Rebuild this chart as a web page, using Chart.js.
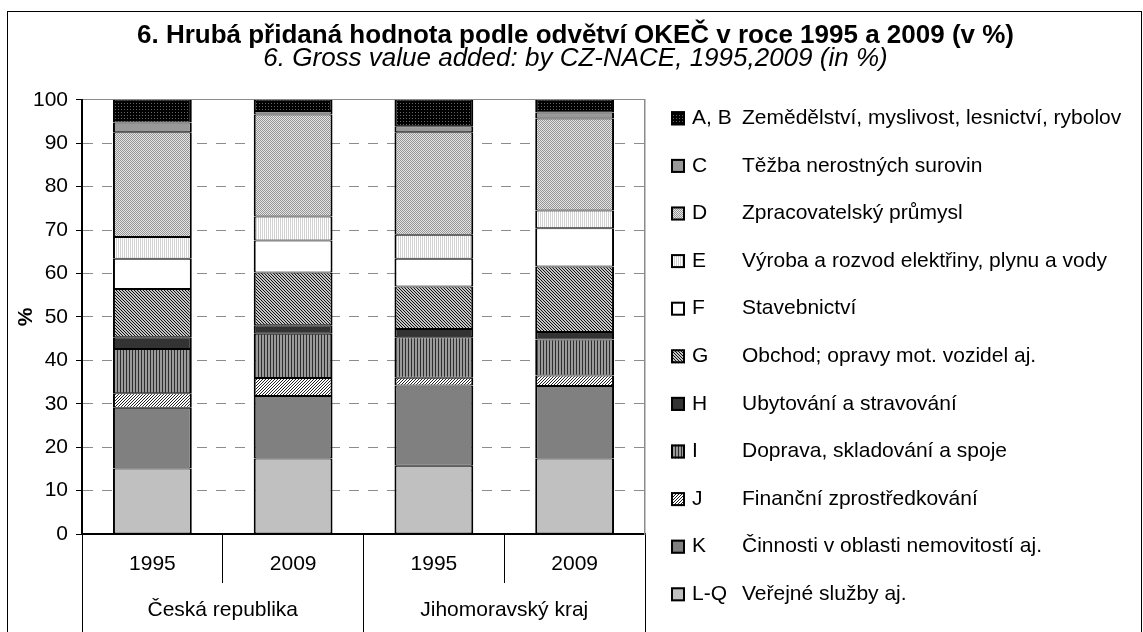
<!DOCTYPE html>
<html lang="cs">
<head>
<meta charset="utf-8">
<title>Hrubá přidaná hodnota podle odvětví OKEČ</title>
<script src="https://cdn.jsdelivr.net/npm/chart.js@4/dist/chart.umd.min.js"></script>
<style>
  html, body { margin: 0; padding: 0; background: #fff; }
  #wrap { width: 1143px; height: 632px; position: relative; }
</style>
</head>
<body>
<div id="wrap"><canvas id="chart"></canvas></div>
<script>
// --- data (legend order, top of the stack first) ---
const yearLabels = ['1995', '2009', '1995', '2009'];
const regionLabels = ['Česká republika', 'Jihomoravský kraj'];
const sectorCodes = ['A, B', 'C', 'D', 'E', 'F', 'G', 'H', 'I', 'J', 'K', 'L-Q'];
const sectorNames = [
  'Zemědělství, myslivost, lesnictví, rybolov',
  'Těžba nerostných surovin',
  'Zpracovatelský průmysl',
  'Výroba a rozvod elektřiny, plynu a vody',
  'Stavebnictví',
  'Obchod; opravy mot. vozidel aj.',
  'Ubytování a stravování',
  'Doprava, skladování a spoje',
  'Finanční zprostředkování',
  'Činnosti v oblasti nemovitostí aj.',
  'Veřejné služby aj.'
];
// shares in %, columns: ČR 1995, ČR 2009, JMK 1995, JMK 2009
const valuesAB = [5.2, 2.6, 6.1, 2.9];
const valuesC  = [2.3, 0.8, 1.4, 1.4];
const valuesD  = [24.1, 23.5, 23.6, 21.2];
const valuesE  = [5.0, 5.5, 5.5, 4.1];
const valuesF  = [7.0, 7.4, 6.4, 8.8];
const valuesG  = [11.1, 12.1, 9.8, 15.1];
const valuesH  = [2.7, 2.0, 1.9, 1.7];
const valuesI  = [10.2, 10.2, 9.3, 8.3];
const valuesJ  = [3.3, 4.1, 1.8, 2.4];
const valuesK  = [14.0, 14.4, 18.5, 16.7];
const valuesLQ = [15.1, 17.4, 15.7, 17.4];
const sectorValues = [valuesAB, valuesC, valuesD, valuesE, valuesF, valuesG, valuesH, valuesI, valuesJ, valuesK, valuesLQ];

const titleText = '6. Hrubá přidaná hodnota podle odvětví OKEČ v roce 1995 a 2009 (v %)';
const subtitleText = '6. Gross value added: by CZ-NACE, 1995,2009 (in %)';

const FONT = "'Liberation Sans', Arial, sans-serif";

// small tile patterns (grey-scale fills like the printed original)
function makePattern(size, paint) {
  const c = document.createElement('canvas');
  c.width = c.height = size;
  const g = c.getContext('2d');
  paint(g);
  return g.createPattern(c, 'repeat');
}
const fills = [
  makePattern(3, g => { g.fillStyle = '#000'; g.fillRect(0, 0, 3, 3); g.fillStyle = '#666'; g.fillRect(1, 1, 1, 1); }),
  '#999999',
  makePattern(2, g => { g.fillStyle = '#e4e4e4'; g.fillRect(0, 0, 2, 2); g.fillStyle = '#959595'; g.fillRect(0, 0, 1, 1); g.fillRect(1, 1, 1, 1); }),
  makePattern(2, g => { g.fillStyle = '#fff'; g.fillRect(0, 0, 2, 2); g.fillStyle = '#d2d2d2'; g.fillRect(0, 0, 1, 2); }),
  '#ffffff',
  makePattern(3, g => { g.fillStyle = '#c4c4c4'; g.fillRect(0, 0, 3, 3); g.fillStyle = '#111';
    for (let i = 0; i < 3; i++) { g.fillRect(i, i, 1, 1); } }),
  '#333333',
  makePattern(3, g => { g.fillStyle = '#9a9a9a'; g.fillRect(0, 0, 3, 3); g.fillStyle = '#2e2e2e'; g.fillRect(0, 0, 1, 3); }),
  makePattern(3, g => { g.fillStyle = '#fff'; g.fillRect(0, 0, 3, 3); g.fillStyle = '#222';
    for (let i = 0; i < 3; i++) { g.fillRect(i, 2 - i, 1, 1); } }),
  '#808080',
  '#c0c0c0'
];

// stack from the bottom: L-Q first, A,B last
const datasets = sectorCodes.map((code, i) => ({
  label: code + ' ' + sectorNames[i],
  data: sectorValues[i],
  backgroundColor: fills[i],
  borderColor: '#000',
  borderWidth: { top: 1, bottom: 1, left: 2, right: 2 },
  borderSkipped: false,
  barPercentage: 0.56,
  categoryPercentage: 1
})).reverse();

// white page + outer frame
const frame = {
  id: 'frame',
  beforeDraw(chart) {
    const { ctx, width, height } = chart;
    ctx.save();
    ctx.fillStyle = '#fff';
    ctx.fillRect(0, 0, width, height);
    ctx.strokeStyle = '#000';
    ctx.lineWidth = 1;
    ctx.strokeRect(7.5, 11.5, width - 9, height + 20);
    ctx.restore();
  }
};

// legend on the right, code column + name column
const sideLegend = {
  id: 'sideLegend',
  afterDraw(chart) {
    const { ctx, chartArea } = chart;
    const boxX = chartArea.right + 26;
    const codeX = chartArea.right + 47;
    const nameX = chartArea.right + 97;
    ctx.save();
    ctx.font = '21px ' + FONT;
    ctx.textBaseline = 'middle';
    ctx.textAlign = 'left';
    sectorCodes.forEach((code, i) => {
      const y = chartArea.top + 18.5 + i * 47.6;
      ctx.fillStyle = fills[i];
      ctx.fillRect(boxX, y - 7, 14, 14);
      ctx.lineWidth = 2;
      ctx.strokeStyle = '#000';
      ctx.strokeRect(boxX + 1, y - 6, 12, 12);
      ctx.fillStyle = '#000';
      ctx.fillText(code, codeX, y);
      ctx.fillText(sectorNames[i], nameX, y);
    });
    ctx.restore();
  }
};

const tickFont = { family: FONT, size: 21 };

new Chart(document.getElementById('chart'), {
  type: 'bar',
  data: { labels: yearLabels, datasets },
  plugins: [frame, sideLegend],
  options: {
    responsive: true,
    maintainAspectRatio: false,
    animation: false,
    layout: { padding: { left: 8, right: 0, top: 12, bottom: 0 } },
    plugins: {
      legend: { display: false },
      tooltip: { enabled: false },
      title: {
        display: true, text: titleText, color: '#000',
        font: { family: FONT, size: 26, weight: 'bold', lineHeight: 0.9 },
        padding: { top: 12, bottom: 0 }
      },
      subtitle: {
        display: true, text: subtitleText, color: '#000',
        font: { family: FONT, size: 26, style: 'italic', lineHeight: 0.9 },
        padding: { top: 0, bottom: 29 }
      }
    },
    scales: {
      x: {
        stacked: true,
        offset: true,
        weight: 0,
        grid: { offset: true, drawOnChartArea: false, tickLength: 49, tickColor: '#000', tickWidth: 1 },
        border: { display: true, color: '#000', width: 2 },
        ticks: { font: tickFont, color: '#000', padding: -31, maxRotation: 0, autoSkip: false },
        afterFit: s => { s.height = 49; }
      },
      x2: {
        type: 'category',
        labels: regionLabels,
        position: 'bottom',
        offset: true,
        weight: 1,
        grid: { offset: true, drawOnChartArea: false, tickLength: 49, tickColor: '#000', tickWidth: 1 },
        border: { display: false },
        ticks: { font: tickFont, color: '#000', padding: -34, maxRotation: 0, autoSkip: false },
        afterFit: s => { s.height = 49; }
      },
      y: {
        stacked: true,
        min: 0,
        max: 100,
        ticks: { stepSize: 10, font: tickFont, color: '#000', padding: 8 },
        grid: {
          color: c => (c.tick && c.tick.value === 0) ? 'rgba(0,0,0,0)' : '#8c8c8c',
          lineWidth: 1,
          tickLength: 6,
          tickColor: '#000',
          tickWidth: 1
        },
        border: {
          color: '#000',
          width: 2,
          dash: c => (c.type === 'tick' && c.tick.value !== 100) ? [10, 9] : []
        },
        title: {
          display: true, text: '%', color: '#000',
          font: { family: FONT, size: 21, weight: 'bold' },
          padding: { top: 6, bottom: 0 }
        },
        afterFit: s => { s.width = 74; }
      },
      yr: {
        type: 'linear',
        position: 'right',
        display: true,
        grid: { drawOnChartArea: false, drawTicks: false },
        ticks: { display: false },
        border: { display: true, color: '#8c8c8c', width: 1.5 },
        afterFit: s => { s.width = 498; }
      }
    }
  }
});
</script>
</body>
</html>
